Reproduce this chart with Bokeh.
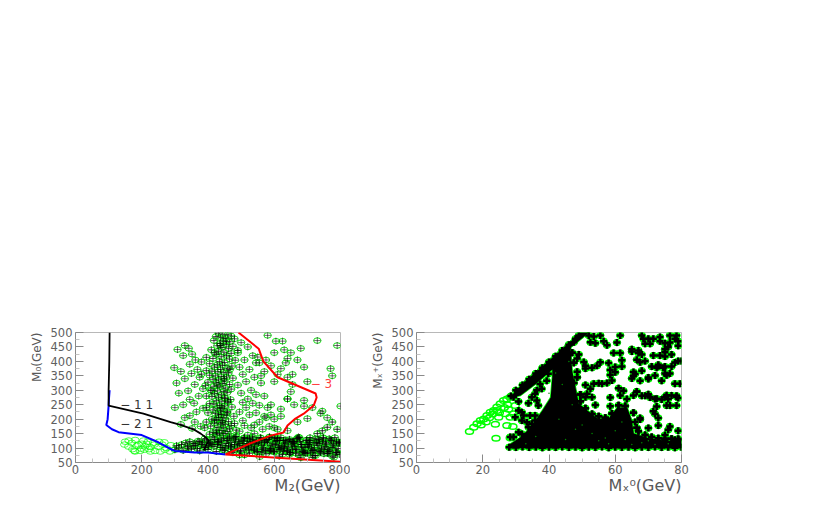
from bokeh.plotting import figure
from bokeh.layouts import row
from bokeh.models import Range1d, FixedTicker, Label, Title
from bokeh.embed import file_html
from bokeh.resources import INLINE

# ---- left panel data ----
curve_3_x = [492, 553, 567, 610, 725, 728, 719, 689, 664, 640, 628, 589, 528, 453, 620, 800]
curve_3_y = [500, 444, 400, 345, 289, 275, 247, 219, 202, 178, 154, 143, 116, 78, 66, 53]
curve_11_x = [103, 102, 100, 100, 205, 287, 317, 356, 378, 393, 402, 387]
curve_11_y = [500, 400, 300, 247, 219, 190, 180, 165, 150, 137, 126, 92]
curve_21_x = [103, 101, 100, 97, 93, 110, 130, 200, 250, 290, 300, 360, 400, 453]
curve_21_y = [300, 270, 247, 200, 180, 165, 155, 145, 120, 95, 90, 85, 85, 78]

hollow_left_x = [150, 161, 170, 180, 190, 205, 215, 225, 160, 172, 185, 198, 210, 222, 238, 250, 262, 275, 180, 195, 208, 226, 240, 256, 270, 285, 200, 218, 235, 252, 268, 288, 148, 178]
hollow_left_y = [122, 126, 118, 128, 112, 126, 115, 104, 105, 96, 108, 98, 106, 96, 112, 104, 112, 100, 88, 90, 94, 88, 90, 88, 94, 88, 115, 122, 118, 122, 120, 110, 112, 90]

column_x = [432, 445, 460, 470, 424, 438, 452, 480, 418, 446, 466, 436, 455, 428, 475, 442, 462, 410, 490, 432, 448, 470, 425, 456, 440, 395, 415, 465, 482, 435, 450, 405, 428, 444, 472, 420, 458, 438, 395, 412, 430, 448, 462, 380, 405, 422, 440, 456, 475, 415, 432, 450, 400, 425, 445, 465, 392, 418, 436, 452, 470, 408, 428, 448, 458, 420, 440, 395, 412, 432, 452, 468, 425, 442, 460, 405, 418, 435, 450, 472, 428, 445, 415, 438, 458, 400, 422, 440, 455, 478, 432, 448, 412, 426, 444, 462, 395, 420, 438, 452, 470, 408, 430, 446, 465, 425, 442, 458, 415, 435, 452, 405, 428, 446, 470, 390, 420, 440, 460, 432, 450, 480, 412, 430, 448, 466, 395, 425, 442, 458, 485, 420, 438, 455]
column_y = [498, 494, 492, 488, 486, 482, 480, 478, 472, 470, 468, 462, 458, 454, 452, 448, 444, 440, 438, 435, 432, 428, 424, 420, 416, 414, 410, 408, 404, 400, 396, 392, 388, 386, 384, 380, 376, 372, 368, 366, 364, 362, 360, 356, 352, 350, 348, 346, 342, 338, 336, 332, 328, 326, 324, 320, 316, 314, 312, 308, 304, 300, 298, 296, 292, 288, 284, 280, 278, 276, 272, 268, 264, 262, 258, 254, 252, 248, 246, 242, 238, 236, 232, 228, 226, 222, 220, 216, 214, 210, 206, 204, 200, 198, 196, 192, 190, 186, 184, 182, 178, 176, 172, 170, 166, 162, 160, 158, 154, 152, 150, 148, 146, 144, 142, 170, 196, 240, 262, 215, 274, 185, 300, 318, 340, 372, 240, 150, 188, 222, 162, 430, 455, 470]

sparse_x = [308, 330, 342, 352, 325, 362, 380, 298, 345, 368, 318, 350, 375, 330, 305, 360, 385, 340, 312, 372, 345, 358, 325, 300, 385, 365, 345, 330, 360, 318, 378, 352, 500, 520, 490, 535, 510, 545, 495, 525, 505, 540, 515, 490, 560, 530, 500, 545, 520, 570, 505, 535, 515, 555, 495, 580, 525, 545, 505, 570, 510, 590, 530, 555, 600, 495, 565, 540, 585, 520, 610, 575, 550, 600, 630, 555, 590, 620, 570, 610, 640, 600, 560, 650, 625, 580, 605, 640, 670, 635, 655, 690, 680, 730, 790, 775, 700, 655, 640, 690, 715, 740, 690, 660, 745, 700, 800, 620, 650, 590, 540, 760, 770, 670, 640, 620, 575, 640, 600]
sparse_y = [441, 455, 445, 425, 420, 405, 398, 378, 390, 372, 365, 358, 345, 340, 325, 320, 305, 298, 290, 280, 268, 255, 250, 240, 238, 225, 212, 205, 190, 182, 175, 168, 465, 450, 430, 420, 405, 395, 380, 372, 355, 345, 330, 318, 325, 300, 290, 285, 270, 280, 258, 255, 240, 248, 225, 240, 215, 222, 195, 210, 178, 215, 170, 190, 200, 158, 165, 150, 175, 145, 165, 405, 415, 430, 440, 395, 385, 375, 365, 355, 345, 330, 350, 430, 470, 490, 470, 410, 405, 395, 355, 380, 445, 472, 455, 350, 330, 320, 270, 245, 240, 220, 265, 250, 228, 202, 245, 235, 295, 250, 180, 205, 375, 190, 270, 210, 205, 160, 170]

band_x = [300, 312, 325, 338, 350, 362, 375, 388, 400, 412, 425, 438, 450, 462, 475, 488, 500, 512, 525, 538, 550, 562, 575, 588, 600, 612, 625, 638, 650, 662, 675, 688, 700, 712, 725, 738, 750, 762, 775, 788, 798, 305, 320, 333, 345, 358, 370, 383, 396, 408, 420, 433, 446, 458, 470, 483, 496, 508, 520, 533, 546, 558, 570, 583, 596, 608, 620, 633, 646, 658, 670, 683, 696, 708, 720, 733, 746, 758, 770, 783, 795, 340, 355, 368, 380, 392, 405, 418, 430, 442, 455, 468, 480, 493, 505, 518, 530, 542, 555, 568, 580, 593, 605, 618, 630, 642, 655, 668, 680, 693, 705, 718, 730, 743, 755, 768, 780, 793, 375, 390, 402, 415, 428, 440, 452, 465, 478, 490, 503, 515, 528, 540, 553, 565, 578, 590, 603, 615, 628, 640, 653, 665, 678, 690, 703, 715, 728, 740, 753, 765, 778, 790, 430, 445, 460, 472, 485, 498, 510, 523, 535, 548, 560, 573, 585, 598, 610, 623, 635, 648, 660, 673, 685, 698, 710, 723, 735, 748, 760, 773, 785, 798, 470, 482, 495, 508, 522, 535, 548, 562, 575, 588, 602, 615, 628, 642, 655, 668, 682, 695, 708, 722, 735, 748, 762, 775, 788, 510, 525, 540, 556, 570, 586, 600, 616, 630, 646, 660, 676, 690, 706, 720, 736, 750, 766, 780, 796, 585, 600, 615, 630, 650, 665, 680, 700, 715, 730, 745, 760, 775, 790]
band_y = [94, 100, 92, 106, 96, 110, 90, 104, 95, 112, 88, 102, 92, 108, 84, 98, 90, 104, 82, 96, 88, 110, 80, 94, 86, 102, 78, 92, 84, 106, 76, 90, 82, 100, 74, 88, 80, 96, 72, 86, 78, 108, 112, 118, 122, 116, 124, 118, 128, 120, 130, 122, 134, 126, 120, 128, 116, 124, 132, 118, 126, 136, 120, 130, 114, 126, 136, 118, 130, 122, 134, 112, 126, 136, 118, 130, 122, 114, 128, 136, 120, 100, 108, 98, 112, 102, 116, 106, 120, 110, 116, 104, 112, 122, 108, 116, 104, 114, 126, 100, 118, 108, 124, 96, 114, 104, 122, 94, 112, 102, 120, 92, 110, 100, 118, 90, 108, 98, 122, 132, 108, 138, 112, 128, 100, 138, 134, 110, 128, 100, 122, 92, 118, 96, 130, 90, 112, 96, 126, 88, 110, 96, 122, 84, 106, 92, 118, 84, 104, 88, 114, 84, 124, 94, 132, 104, 140, 90, 136, 94, 130, 86, 134, 92, 138, 90, 132, 100, 128, 84, 116, 138, 88, 128, 86, 132, 90, 136, 82, 126, 84, 120, 88, 138, 76, 134, 108, 138, 114, 86, 128, 98, 136, 108, 90, 124, 96, 132, 104, 82, 126, 94, 116, 134, 82, 102, 122, 76, 134, 100, 70, 124, 138, 88, 126, 100, 78, 120, 136, 84, 112, 74, 128, 96, 132, 68, 116, 90, 134, 72, 106, 124, 82, 66, 112, 68, 150, 160, 172, 190, 165, 160, 72, 138, 64, 62, 78, 60, 106, 64, 58]

# ---- right panel data ----
outer_x = [28, 31.4, 36, 41, 49.5, 52, 50, 46.5, 47, 48, 49, 51.6, 54.6, 58, 60.6, 63.6, 65, 65.6, 70, 74.7, 80, 80]
outer_y = [272, 316, 362, 412, 500, 500, 480, 448, 368, 310, 254, 230, 202, 202, 240, 240, 195, 150, 135, 126, 125, 100]
pocket_edge_x = [27, 27.5, 31.4, 34.4, 38, 40.5, 41, 41, 36, 31.4]
pocket_edge_y = [102, 108, 137, 171, 230, 275, 345, 372, 322, 282]

filled_x = [52, 53.5, 55.5, 61.5, 68, 68.5, 70, 71.5, 73.5, 76.5, 78.5, 79, 52.5, 54, 56.5, 57.5, 60.5, 69, 70.5, 73.5, 75, 76.5, 78, 76, 75, 79, 65, 67, 59.5, 61.5, 65, 67, 68, 49, 48.5, 71.5, 73.5, 75, 75, 77, 78, 79, 80, 50.5, 55.5, 58, 62, 66.5, 67.5, 69, 71, 73, 51, 53, 54.5, 51, 60, 62, 72.5, 74.5, 73, 77, 76.5, 75, 48.5, 58.5, 60, 58.5, 65.5, 66, 68, 65.5, 70, 72, 75, 65, 67.5, 70, 74, 75.5, 78, 79.5, 56, 55, 52.5, 51, 53.5, 57.5, 59, 61, 62.5, 66.5, 68, 69, 70.5, 72, 74, 75.5, 77, 78.5, 66.5, 70, 72.5, 75, 51.5, 51, 58.5, 61.5, 63.5, 65.5, 70.5, 75.5, 76, 78.5, 79, 53, 54, 58.5, 76.5, 78.5, 72.5, 71.5, 72, 73, 67.5, 67.5, 66, 70, 73, 76, 76.5, 79, 75, 75, 79, 78, 67]
filled_y = [490, 486, 490, 490, 490, 478, 478, 478, 484, 490, 490, 470, 466, 463, 470, 456, 465, 461, 461, 470, 463, 465, 478, 450, 442, 454, 442, 438, 429, 429, 434, 429, 424, 424, 410, 420, 420, 432, 417, 424, 396, 401, 401, 398, 397, 394, 404, 406, 397, 401, 382, 388, 385, 378, 385, 375, 381, 382, 378, 378, 383, 382, 358, 382, 364, 370, 362, 353, 363, 356, 368, 350, 339, 351, 358, 341, 333, 344, 333, 352, 323, 323, 323, 324, 305, 318, 323, 325, 334, 307, 298, 295, 281, 281, 275, 270, 268, 283, 282, 281, 296, 286, 271, 277, 288, 276, 275, 282, 270, 282, 277, 247, 270, 278, 273, 276, 249, 245, 247, 247, 244, 227, 218, 204, 199, 204, 190, 169, 178, 163, 175, 160, 128, 145, 132, 129, 126]

pocket_x = [30.8, 29.3, 34.8, 36.3, 36.8, 30.8, 31.8, 29.8, 32.3, 34.3, 35.8, 31.8, 33.3, 34.8, 35.8, 30.8, 31.8, 33.8, 29.3, 28.3, 36.3, 37.8, 39.3, 35.8, 37.3, 33.8, 39.8]
pocket_y = [261, 276, 276, 265, 247, 230, 224, 207, 213, 213, 213, 195, 189, 184, 195, 155, 149, 172, 138, 138, 300, 305, 333, 288, 322, 255, 357]

edge_x = [28.5, 30, 32, 34, 36, 38, 40, 42, 44, 46, 48, 30.5, 33.5, 35.5, 37.5, 39.5, 41.5, 43.5, 45.5, 47.5, 49, 47, 47.5, 48.5, 47.5, 49.5, 49.5, 51, 53, 55, 57, 59, 61, 63, 65.5, 66.5, 67, 69, 71, 73, 75, 77, 79]
edge_y = [280, 300, 318, 338, 358, 378, 398, 418, 438, 458, 478, 296, 326, 346, 366, 386, 406, 426, 446, 466, 490, 430, 395, 345, 325, 285, 262, 238, 218, 210, 205, 220, 248, 246, 222, 170, 158, 145, 138, 134, 132, 132, 130]

bottom_x = [28, 30, 32, 34, 36, 38, 40, 42, 44, 46, 48, 50, 52, 54, 56, 58, 60, 62, 64, 66, 68, 70, 72, 74, 76, 78, 80]
bottom_y = [103, 102, 104, 102, 103, 101, 103, 102, 104, 102, 103, 101, 103, 102, 104, 101, 103, 102, 103, 101, 103, 102, 104, 102, 103, 101, 103]

fleck_x = [40, 44, 47, 43, 50, 53, 57, 60, 62, 45, 48, 55, 63, 68, 72, 36, 33, 42, 46, 58, 65, 70, 76]
fleck_y = [290, 320, 250, 200, 180, 150, 135, 160, 190, 130, 165, 125, 130, 118, 112, 140, 115, 360, 400, 115, 112, 125, 115]

hollow_right_x = [16, 17.3, 18.3, 19.3, 20.3, 21.3, 22.3, 23.3, 24.3, 25.3, 26.3, 27.3, 28.3, 23.8, 24, 24.8, 24.3, 27.8, 26.8, 28.3, 29.3, 27.3, 29.1, 28.3, 29.8, 19.5, 21, 22, 23, 25, 26.5, 27.5]
hollow_right_y = [157, 172, 184, 195, 201, 213, 224, 230, 242, 253, 265, 270, 276, 182, 134, 207, 230, 234, 219, 207, 219, 178, 175, 135, 247, 180, 190, 205, 218, 222, 240, 250]

x_ticks_left = [0, 200, 400, 600, 800]
x_ticks_right = [0, 20, 40, 60, 80]
y_ticks = [50, 100, 150, 200, 250, 300, 350, 400, 450, 500]
y_minor = [75, 125, 175, 225, 275, 325, 375, 425, 475]
x_minor_left = [50, 100, 150, 250, 300, 350, 450, 500, 550, 650, 700, 750]
x_minor_right = [5, 10, 15, 25, 30, 35, 45, 50, 55, 65, 70, 75]

GREEN = "#00ff00"
GRAY = "#8a8a8a"
FONT = "DejaVu Sans"
H = 502


def panel(xmax, xticks, xminor, left, width):
    p = figure(width=width, height=H, x_range=Range1d(0, xmax), y_range=Range1d(50, 500),
               output_backend="svg", toolbar_location=None,
               min_border_left=left, min_border_right=width - left - 265,
               min_border_top=332, min_border_bottom=40)
    p.grid.visible = False
    p.background_fill_color = "white"
    p.border_fill_color = None
    p.outline_line_color = "#b8b8b8"
    p.outline_line_width = 1
    p.xaxis.ticker = FixedTicker(ticks=xticks, minor_ticks=xminor)
    p.yaxis.ticker = FixedTicker(ticks=y_ticks, minor_ticks=y_minor)
    for ax in (p.xaxis[0], p.yaxis[0]):
        ax.axis_line_color = GRAY
        ax.major_tick_line_color = GRAY
        ax.minor_tick_line_color = "#c4c4c4"
        ax.major_tick_out = 0
        ax.major_tick_in = 8
        ax.minor_tick_out = 0
        ax.minor_tick_in = 4
        ax.major_label_text_font = FONT
        ax.major_label_text_font_size = "11.5px"
        ax.major_label_text_color = "#606060"
    p.yaxis[0].major_label_standoff = 3
    p.xaxis[0].major_label_standoff = 2
    return p


def side_title(p, text, side, size, standoff):
    t = Title(text=text, align="right", text_font=FONT, text_font_size=size, text_font_style="normal",
              text_color="#585858", standoff=standoff, offset=0)
    p.add_layout(t, side)


# ---------- left ----------
left = panel(800, x_ticks_left, x_minor_left, 75, 350)
left.ellipse(hollow_left_x, hollow_left_y, width=8, height=5.5, width_units="screen", height_units="screen",
             fill_color=None, line_color=GREEN, line_width=0.7)
for xs, ys, alpha, lw in ((sparse_x, sparse_y, 0.7, 0.8), (column_x, column_y, 0.85, 0.8), (band_x, band_y, 0.9, 0.9)):
    left.ellipse(xs, ys, width=7.5, height=5.5, width_units="screen", height_units="screen",
                 fill_color=None, line_color="#00dd00", line_width=1, line_alpha=0.9)
    left.scatter(xs, ys, marker="cross", size=7, fill_color=None, line_color="#000000", line_width=lw, line_alpha=alpha)
left.line(curve_21_x, curve_21_y, line_color="#0000ff", line_width=2)
left.line(curve_11_x, curve_11_y, line_color="#000000", line_width=1.8)
left.line(curve_3_x, curve_3_y, line_color="#ff0000", line_width=2)

for txt, x, y, col in (("− 1 1", 135, 250, "#333333"), ("− 2 1", 135, 183, "#333333"), ("− 3", 710, 322, "#ff4040")):
    left.add_layout(Label(x=x, y=y, text=txt, text_color=col, text_font=FONT, text_font_size="12px",
                          text_baseline="middle", level="overlay"))
side_title(left, "M₂(GeV)", "below", "16px", -5)
side_title(left, "M₀(GeV)", "left", "12px", 8)

# ---------- right ----------
right = panel(80, x_ticks_right, x_minor_right, 66, 345)
right.ellipse(hollow_right_x, hollow_right_y, width=8, height=5.5, width_units="screen", height_units="screen",
              fill_color=None, line_color=GREEN, line_width=1.5)
mx = outer_x + pocket_edge_x
my = outer_y + pocket_edge_y
right.patch(mx, my, fill_color="#000000", line_color=GREEN, line_width=1.5)
groups = ((filled_x, filled_y), (pocket_x, pocket_y), (edge_x, edge_y), (bottom_x, bottom_y))
for xs, ys in groups:
    right.ellipse(xs, ys, width=7.5, height=6.5, width_units="screen", height_units="screen",
                  fill_color=GREEN, line_color=GREEN, line_width=1)
for xs, ys in groups:
    right.scatter(xs, ys, marker="cross", size=7, line_color="#000000", line_width=2.5)
right.patch(mx, my, fill_color="#000000", line_color=None)
right.scatter(fleck_x, fleck_y, marker="circle", size=1.5, fill_color="#008800", line_color=None)
right.scatter(edge_x[21:], edge_y[21:], marker="cross", size=7, line_color="#000000", line_width=2.5)

side_title(right, "Mₓ⁰(GeV)", "below", "16px", -5)
side_title(right, "Mₓ⁺(GeV)", "left", "12px", 8)

page = row(left, right, spacing=0)
open("out.html", "w").write(file_html(page, INLINE))
